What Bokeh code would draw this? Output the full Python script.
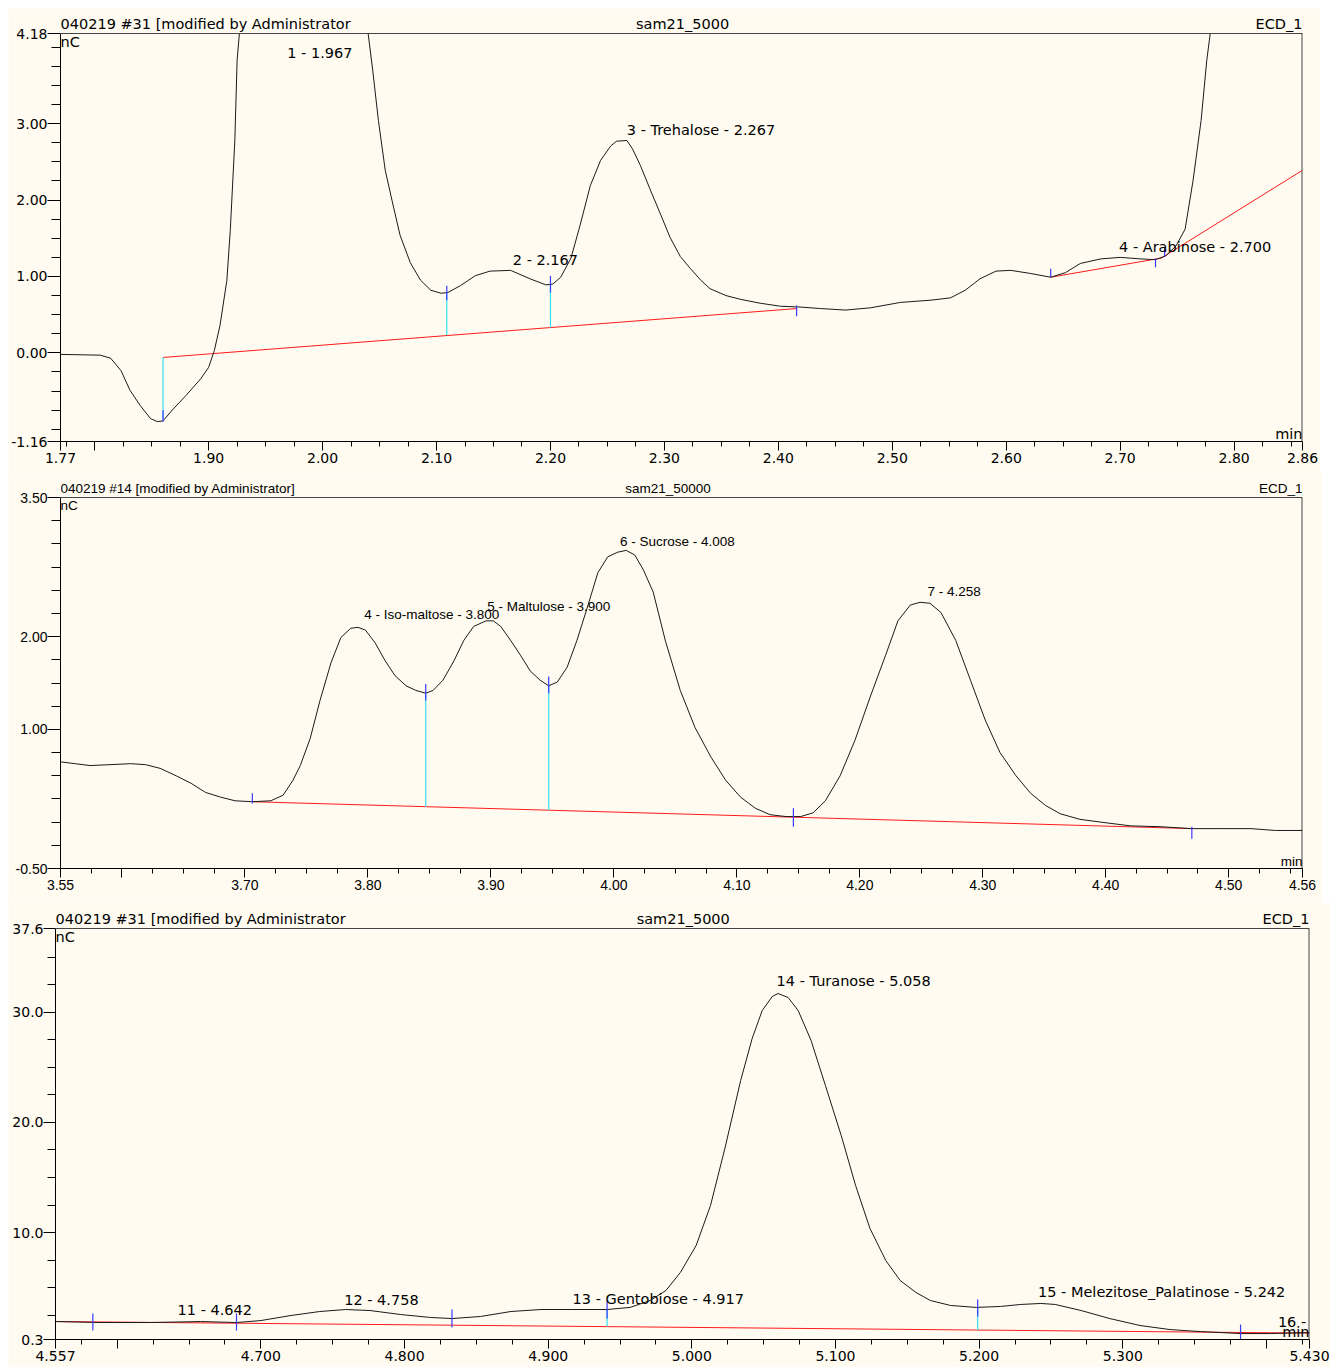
import numpy as np
from bokeh.plotting import figure
from bokeh.models import FixedTicker, PrintfTickFormatter, Range1d, Span
from bokeh.core.properties import value
from bokeh.embed import file_html
from bokeh.resources import INLINE

BG = "#FFFBF0"
TRACE = "#1a1a1a"
RED = "#FF1A1A"
CYAN = "#33E0F0"
BLUE = "#3A3AFF"
FRAME = "#444444"

# ---------------- Panel 1 : sam21_5000 (1.77 - 2.86 min) ----------------
p1_time = [1.770, 1.805, 1.814, 1.823, 1.831, 1.840, 1.849, 1.855, 1.860, 1.868,
           1.880, 1.893, 1.900, 1.905, 1.910, 1.916, 1.919, 1.923, 1.925, 1.927,
           1.967, 2.040, 2.044, 2.049, 2.055, 2.061, 2.068, 2.077, 2.086, 2.095,
           2.104, 2.110, 2.121, 2.134, 2.147, 2.165, 2.182, 2.196, 2.202, 2.209,
           2.218, 2.226, 2.235, 2.244, 2.253, 2.258, 2.267, 2.272, 2.279, 2.288,
           2.297, 2.305, 2.314, 2.323, 2.332, 2.340, 2.354, 2.367, 2.384, 2.402,
           2.419, 2.437, 2.459, 2.481, 2.507, 2.534, 2.551, 2.564, 2.577, 2.591,
           2.604, 2.621, 2.639, 2.652, 2.665, 2.683, 2.700, 2.718, 2.731, 2.740,
           2.749, 2.757, 2.764, 2.771, 2.776, 2.779, 2.797, 2.860]
p1_signal = [-0.02, -0.03, -0.07, -0.23, -0.49, -0.69, -0.86, -0.90, -0.89, -0.75,
             -0.56, -0.34, -0.19, 0.03, 0.36, 0.95, 1.60, 2.78, 3.83, 4.18,
             12.0, 4.18, 3.70, 3.04, 2.39, 1.99, 1.54, 1.18, 0.95, 0.82,
             0.78, 0.79, 0.88, 1.01, 1.07, 1.08, 0.97, 0.89, 0.90, 0.99,
             1.24, 1.67, 2.19, 2.52, 2.71, 2.77, 2.78, 2.67, 2.45, 2.12,
             1.80, 1.51, 1.26, 1.10, 0.95, 0.84, 0.75, 0.70, 0.65, 0.61,
             0.60, 0.58, 0.56, 0.59, 0.66, 0.69, 0.72, 0.82, 0.97, 1.07,
             1.08, 1.04, 0.99, 1.05, 1.17, 1.23, 1.25, 1.23, 1.22, 1.27,
             1.40, 1.62, 2.26, 3.04, 3.83, 4.18, 7.20, 14.0]
p1_base_a_x = [1.860, 2.416]
p1_base_a_y = [-0.06, 0.58]
p1_base_b_x = [2.639, 2.736, 2.860]
p1_base_b_y = [0.99, 1.24, 2.39]
p1_drop_x = [1.860, 2.109, 2.200]
p1_drop_y0 = [-0.06, 0.23, 0.33]
p1_drop_y1 = [-0.86, 0.79, 0.90]
p1_tick_x = [1.860, 2.109, 2.200, 2.416, 2.639, 2.731, 2.739]
p1_tick_y0 = [-0.90, 0.69, 0.79, 0.48, 0.99, 1.12, 1.26]
p1_tick_y1 = [-0.75, 0.88, 1.01, 0.62, 1.10, 1.235, 1.37]
p1_label_text = ["1 - 1.967", "2 - 2.167", "3 - Trehalose - 2.267", "4 - Arabinose - 2.700"]
p1_label_x = [1.969, 2.167, 2.267, 2.699]
p1_label_y = [3.93, 1.22, 2.92, 1.39]
p1_xticks = [1.77, 1.80, 1.90, 2.00, 2.10, 2.20, 2.30, 2.40, 2.50, 2.60, 2.70, 2.80, 2.86]
p1_xhidden = [1.80]
p1_yticks = [-1.16, 0.0, 1.0, 2.0, 3.0, 4.18]

# ---------------- Panel 2 : sam21_50000 (3.55 - 4.56 min) ----------------
p2_time = [3.550, 3.562, 3.574, 3.591, 3.607, 3.619, 3.631, 3.644, 3.656, 3.668,
           3.680, 3.692, 3.706, 3.721, 3.731, 3.739, 3.745, 3.753, 3.761, 3.770,
           3.778, 3.786, 3.792, 3.798, 3.806, 3.814, 3.822, 3.831, 3.839, 3.847,
           3.853, 3.861, 3.870, 3.878, 3.886, 3.896, 3.902, 3.908, 3.916, 3.924,
           3.932, 3.940, 3.947, 3.954, 3.962, 3.970, 3.979, 3.987, 3.995, 4.003,
           4.010, 4.017, 4.024, 4.032, 4.042, 4.054, 4.066, 4.079, 4.091, 4.103,
           4.115, 4.127, 4.140, 4.152, 4.162, 4.172, 4.184, 4.196, 4.209, 4.221,
           4.231, 4.241, 4.249, 4.257, 4.266, 4.278, 4.290, 4.302, 4.314, 4.327,
           4.339, 4.351, 4.363, 4.379, 4.396, 4.420, 4.445, 4.469, 4.493, 4.518,
           4.538, 4.560]
p2_signal = [0.65, 0.63, 0.61, 0.62, 0.63, 0.62, 0.58, 0.50, 0.42, 0.32,
             0.27, 0.23, 0.22, 0.23, 0.29, 0.45, 0.61, 0.90, 1.31, 1.72,
             1.99, 2.09, 2.10, 2.07, 1.93, 1.74, 1.58, 1.47, 1.42, 1.39,
             1.42, 1.53, 1.74, 1.96, 2.11, 2.17, 2.17, 2.11, 1.96, 1.80,
             1.63, 1.53, 1.47, 1.51, 1.67, 1.96, 2.34, 2.69, 2.86, 2.91,
             2.93, 2.88, 2.72, 2.48, 1.95, 1.42, 1.02, 0.70, 0.45, 0.27,
             0.15, 0.08, 0.06, 0.06, 0.10, 0.23, 0.50, 0.88, 1.37, 1.80,
             2.17, 2.34, 2.37, 2.36, 2.26, 1.96, 1.53, 1.10, 0.75, 0.50,
             0.31, 0.18, 0.09, 0.03, 0.00, -0.04, -0.05, -0.07, -0.07, -0.07,
             -0.09, -0.09]
p2_base_x = [3.706, 4.471]
p2_base_y = [0.22, -0.07]
p2_drop_x = [3.847, 3.947]
p2_drop_y0 = [0.167, 0.129]
p2_drop_y1 = [1.39, 1.47]
p2_tick_x = [3.706, 3.847, 3.947, 4.146, 4.470]
p2_tick_y0 = [0.20, 1.31, 1.39, -0.05, -0.18]
p2_tick_y1 = [0.31, 1.49, 1.57, 0.15, -0.05]
p2_label_text = ["4 - Iso-maltose - 3.800", "5 - Maltulose - 3.900", "6 - Sucrose - 4.008", "7 - 4.258"]
p2_label_x = [3.797, 3.897, 4.005, 4.255]
p2_label_y = [2.24, 2.32, 3.03, 2.49]
p2_xticks = [3.55, 3.60, 3.70, 3.80, 3.90, 4.00, 4.10, 4.20, 4.30, 4.40, 4.50, 4.56]
p2_xhidden = [3.60]
p2_yticks = [-0.5, 1.0, 2.0, 3.5]

# ---------------- Panel 3 : sam21_5000 (4.557 - 5.430 min) ----------------
p3_time = [4.557, 4.588, 4.623, 4.658, 4.683, 4.700, 4.721, 4.741, 4.759, 4.776,
           4.797, 4.818, 4.833, 4.853, 4.874, 4.895, 4.916, 4.941, 4.957, 4.971,
           4.982, 4.992, 5.003, 5.013, 5.023, 5.034, 5.042, 5.049, 5.056, 5.060,
           5.067, 5.074, 5.083, 5.093, 5.104, 5.114, 5.124, 5.135, 5.145, 5.156,
           5.166, 5.180, 5.198, 5.215, 5.229, 5.243, 5.253, 5.271, 5.291, 5.312,
           5.333, 5.354, 5.382, 5.403, 5.430]
p3_signal = [1.93, 1.84, 1.84, 1.93, 1.84, 2.02, 2.48, 2.84, 3.02, 2.93,
             2.57, 2.30, 2.20, 2.39, 2.84, 3.02, 3.02, 3.02, 3.21, 3.84,
             4.75, 6.38, 8.83, 12.46, 17.63, 23.81, 27.62, 30.16, 31.43, 31.70,
             31.34, 30.16, 27.44, 23.35, 18.81, 14.28, 10.38, 7.47, 5.66, 4.57,
             3.84, 3.39, 3.21, 3.30, 3.48, 3.57, 3.48, 2.93, 2.20, 1.57,
             1.20, 1.02, 0.84, 0.84, 0.93]
p3_base_x = [4.557, 5.430]
p3_base_y = [1.93, 0.88]
p3_drop_x = [4.941, 5.199]
p3_drop_y0 = [1.47, 1.16]
p3_drop_y1 = [3.02, 3.21]
p3_tick_x = [4.583, 4.683, 4.833, 4.941, 5.199, 5.382]
p3_tick_y0 = [1.12, 1.12, 1.39, 2.20, 2.39, 0.12]
p3_tick_y1 = [2.66, 2.66, 3.02, 3.84, 3.93, 1.66]
p3_label_text = ["11 - 4.642", "12 - 4.758", "13 - Gentobiose - 4.917", "14 - Turanose - 5.058",
                 "15 - Melezitose_Palatinose - 5.242", "16 -"]
p3_label_x = [4.642, 4.758, 4.917, 5.059, 5.241, 5.408]
p3_label_y = [2.94, 3.93, 4.02, 32.8, 4.57, 1.85]
p3_xticks = [4.557, 4.600, 4.700, 4.800, 4.900, 5.000, 5.100, 5.200, 5.300, 5.400, 5.430]
p3_xhidden = [4.600, 5.400]
p3_yticks = [0.3, 10.0, 20.0, 30.0, 37.6]

HEADER = 20  # px of header strip kept above the plotting box


def panel(width, left, right, top, frame_h, bottom, margin, xr, yr, font, lsize, tsize, xfmt, yfmt,
          xticks, xminor, xhidden, yticks, yminor, ytick_out,
          time, signal, bases, drop, ticks, labels, title_left, title_mid, mid_x):
    ybot, ytop = yr
    upp = (ytop - ybot) / frame_h  # data units per pixel
    yend = ytop + HEADER * upp
    p = figure(width=width, height=top + frame_h + bottom,
               x_range=Range1d(*xr), y_range=Range1d(ybot, yend),
               output_backend="svg", toolbar_location=None,
               min_border_left=left, min_border_right=right,
               min_border_top=top - HEADER, min_border_bottom=bottom, margin=margin)
    p.background_fill_color = BG
    p.border_fill_color = BG
    p.outline_line_color = None
    p.xgrid.visible = False
    p.ygrid.visible = False

    p.xaxis.ticker = FixedTicker(ticks=xticks, minor_ticks=xminor)
    p.xaxis.formatter = PrintfTickFormatter(format=xfmt)
    p.xaxis.major_label_overrides = {h: "" for h in xhidden}
    p.yaxis.ticker = FixedTicker(ticks=yticks, minor_ticks=yminor)
    p.yaxis.formatter = PrintfTickFormatter(format=yfmt)
    p.yaxis.bounds = (ybot, ytop)
    for ax in (p.xaxis[0], p.yaxis[0]):
        ax.axis_line_color = "black"
        ax.major_tick_line_color = "black"
        ax.minor_tick_line_color = "black"
        ax.major_tick_in = 0
        ax.minor_tick_in = 0
        ax.major_label_text_font = font
        ax.major_label_text_font_size = tsize
        ax.major_label_text_color = "black"
    p.xaxis.major_tick_out = 9
    p.xaxis.minor_tick_out = 5
    p.xaxis.major_label_standoff = 2
    p.yaxis.major_tick_out = ytick_out
    p.yaxis.minor_tick_out = ytick_out - 4
    p.yaxis.major_label_standoff = 0

    # box top and right edges
    p.add_layout(Span(location=ytop, dimension="width", line_color=FRAME, line_width=1))
    p.segment(x0=[xr[1]], y0=[ybot], x1=[xr[1]], y1=[ytop], line_color=FRAME, line_width=2)

    # baselines
    for bx, by in bases:
        p.line(bx, by, line_color=RED, line_width=1)
    # drop lines
    dx, dy0, dy1 = drop
    p.segment(x0=dx, y0=dy0, x1=dx, y1=dy1, line_color=CYAN, line_width=1.2)
    # chromatogram (clipped at the top of the box, like the original display)
    p.line(time, np.minimum(np.array(signal), ytop), line_color=TRACE, line_width=1)
    # peak delimiters
    tx, ty0, ty1 = ticks
    p.segment(x0=tx, y0=ty0, x1=tx, y1=ty1, line_color=BLUE, line_width=1.2)
    # peak labels
    lt, lx, ly = labels
    p.text(x=lx, y=ly, text=lt, text_font=value(font), text_font_size=lsize,
           text_baseline="middle", text_align="left", text_color="black")
    # units
    p.text(x=[xr[0]], y=[ytop], text=["nC"], text_font=value(font), text_font_size=lsize,
           text_baseline="top", text_align="left", text_color="black")
    p.text(x=[xr[1]], y=[ybot], text=["min"], text_font=value(font), text_font_size=lsize,
           text_baseline="bottom", text_align="right", text_color="black")
    # header line, lifted slightly above the box top
    hy = ytop + 2 * upp
    p.text(x=[xr[0], mid_x, xr[1]], y=[hy, hy, hy],
           text=[title_left, title_mid, "ECD_1"],
           text_align=["left", "center", "right"], text_baseline="bottom",
           text_font=value(font), text_font_size=lsize, text_color="black")
    return p


def minor(start, stop, step, n):
    return [round(start + step * i, 4) for i in range(n) if start + step * i <= stop + 1e-9]


SANS = "DejaVu Sans"
LIB = "Liberation Sans"

f1 = panel(1312, 52, 18, 25, 408, 31, (8, 0, 0, 8), (1.77, 2.86), (-1.16, 4.18), SANS, "14.5px", "14px",
           "%.2f", "%.2f",
           p1_xticks, minor(1.775, 2.85, 0.025, 60), p1_xhidden, p1_yticks, minor(-1.0, 4.0, 0.25, 30), 13,
           p1_time, p1_signal, [(p1_base_a_x, p1_base_a_y), (p1_base_b_x, p1_base_b_y)],
           (p1_drop_x, p1_drop_y0, p1_drop_y1), (p1_tick_x, p1_tick_y0, p1_tick_y1),
           (p1_label_text, p1_label_x, p1_label_y),
           "040219 #31 [modified by  Administrator", "sam21_5000", 2.316)
f2 = panel(1314, 52, 20, 25, 371, 34, (0, 0, 0, 8), (3.55, 4.56), (-0.5, 3.5), LIB, "13.5px", "14px",
           "%.2f", "%.2f",
           p2_xticks, minor(3.575, 4.55, 0.025, 60), p2_xhidden, p2_yticks, minor(-0.25, 3.25, 0.25, 20), 13,
           p2_time, p2_signal, [(p2_base_x, p2_base_y)],
           (p2_drop_x, p2_drop_y0, p2_drop_y1), (p2_tick_x, p2_tick_y0, p2_tick_y1),
           (p2_label_text, p2_label_x, p2_label_y),
           "040219 #14 [modified by Administrator]", "sam21_50000", 4.044)
f3 = panel(1322, 47, 21, 26, 411, 28, (0, 0, 0, 8), (4.557, 5.430), (0.3, 37.6), SANS, "14.5px", "14px",
           "%.3f", "%.1f",
           p3_xticks, minor(4.575, 5.425, 0.025, 40), p3_xhidden, p3_yticks, minor(2.5, 35.0, 2.5, 20), 12,
           p3_time, p3_signal, [(p3_base_x, p3_base_y)],
           (p3_drop_x, p3_drop_y0, p3_drop_y1), (p3_tick_x, p3_tick_y0, p3_tick_y1),
           (p3_label_text, p3_label_x, p3_label_y),
           "040219 #31 [modified by  Administrator", "sam21_5000", 4.994)

open("out.html", "w").write(file_html([f1, f2, f3], INLINE))
